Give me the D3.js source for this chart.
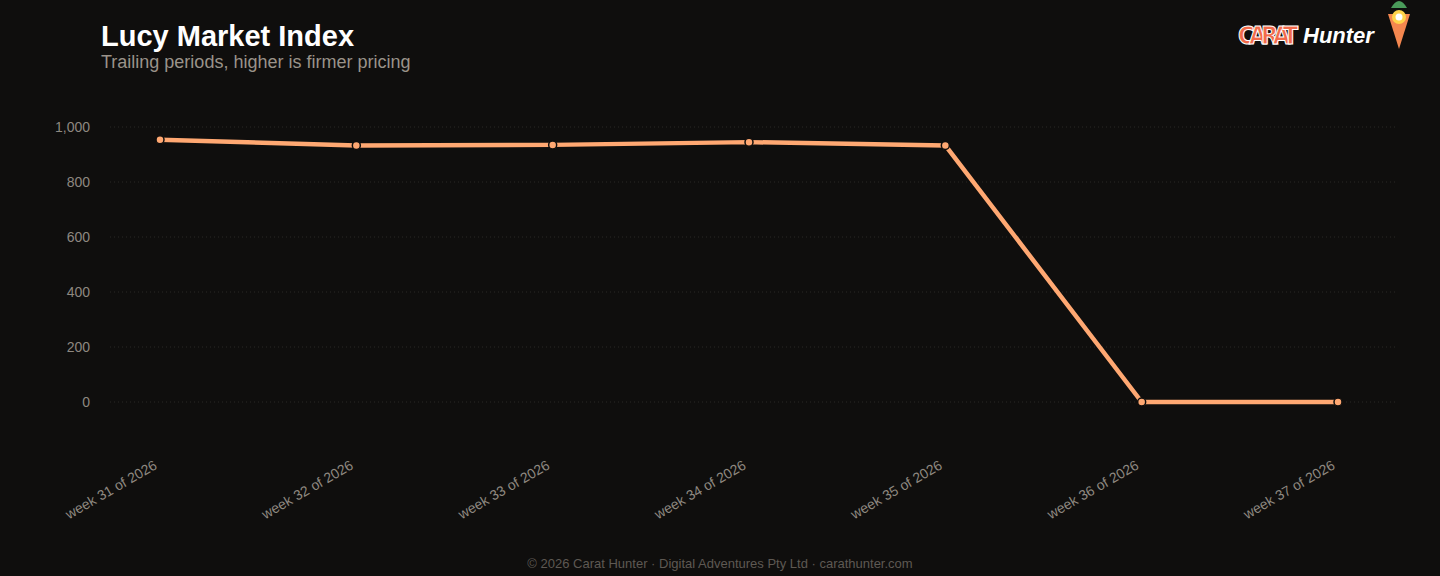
<!DOCTYPE html><html><head><meta charset="utf-8"><script src="https://cdn.jsdelivr.net/npm/d3@7"></script>
<style>body{margin:0;background:#0f0e0d;}svg{display:block;font-family:"Liberation Sans",Arial,sans-serif}</style></head><body><svg id="c" width="1440" height="576"></svg>
<script>
const categories=["week 31 of 2026","week 32 of 2026","week 33 of 2026","week 34 of 2026","week 35 of 2026","week 36 of 2026","week 37 of 2026"];
const values=[954,933,935,945,933,0,0];
const yTicks=[0,200,400,600,800,1000];
const svg=d3.select("#c");
svg.append("rect").attr("width",1440).attr("height",576).attr("fill","#0f0e0d");
const x=d3.scalePoint().domain(categories).range([160,1338]);
const y=d3.scaleLinear().domain([0,1000]).range([402,127]);
svg.selectAll(".g").data(yTicks).enter().append("line").attr("x1",110).attr("x2",1395).attr("y1",d=>y(d)).attr("y2",d=>y(d)).attr("stroke","#2a2826").attr("stroke-dasharray","1,3");
svg.selectAll(".yl").data(yTicks).enter().append("text").attr("x",90).attr("y",d=>y(d)+5).attr("text-anchor","end").attr("fill","#8e8880").attr("font-size",14).text(d=>d3.format(",")(d));
svg.selectAll(".xl").data(categories).enter().append("text").attr("transform",d=>`translate(${x(d)-2},${468}) rotate(-30)`).attr("text-anchor","end").attr("fill","#8e8880").attr("font-size",14).text(d=>d);
svg.append("path").datum(values).attr("d",d3.line().x((d,i)=>x(categories[i])).y(d=>y(d))).attr("fill","none").attr("stroke","#ffa872").attr("stroke-width",4.5).attr("stroke-linejoin","round");
svg.selectAll(".p").data(values).enter().append("circle").attr("cx",(d,i)=>x(categories[i])).attr("cy",d=>y(d)).attr("r",4).attr("fill","#ffa872").attr("stroke","#0f0e0d").attr("stroke-width",1.5);
svg.append("text").attr("x",101).attr("y",46).attr("fill","#ffffff").attr("font-size",29).attr("font-weight","bold").text("Lucy Market Index");
svg.append("text").attr("x",101).attr("y",68).attr("fill","#9a938a").attr("font-size",18).text("Trailing periods, higher is firmer pricing");
svg.append("text").attr("x",720).attr("y",568).attr("text-anchor","middle").attr("fill","#5e5953").attr("font-size",13).text("© 2026 Carat Hunter · Digital Adventures Pty Ltd · carathunter.com");
// logo
svg.append("text").attr("x",1238).attr("y",44).attr("fill","#f26a4b").attr("stroke","#fff").attr("stroke-width",1).attr("font-size",25).attr("font-weight","bold").attr("font-family","'DejaVu Sans Condensed','Liberation Sans Narrow',sans-serif").attr("textLength",60).text("CARAT");
svg.append("text").attr("x",1303).attr("y",43).attr("fill","#fff").attr("font-size",22).attr("font-weight","bold").attr("font-style","italic").text("Hunter");
svg.append("path").attr("d","M1388,14 L1410,14 L1399,49 Z").attr("fill","#f4874f");
svg.append("path").attr("d","M1391,8 Q1399,-6 1407,8 Z").attr("fill","#4a9b5a");
svg.append("circle").attr("cx",1399).attr("cy",17).attr("r",7).attr("fill","#ffd34a");
svg.append("circle").attr("cx",1399).attr("cy",17).attr("r",3.5).attr("fill","#fff");
</script></body></html>
